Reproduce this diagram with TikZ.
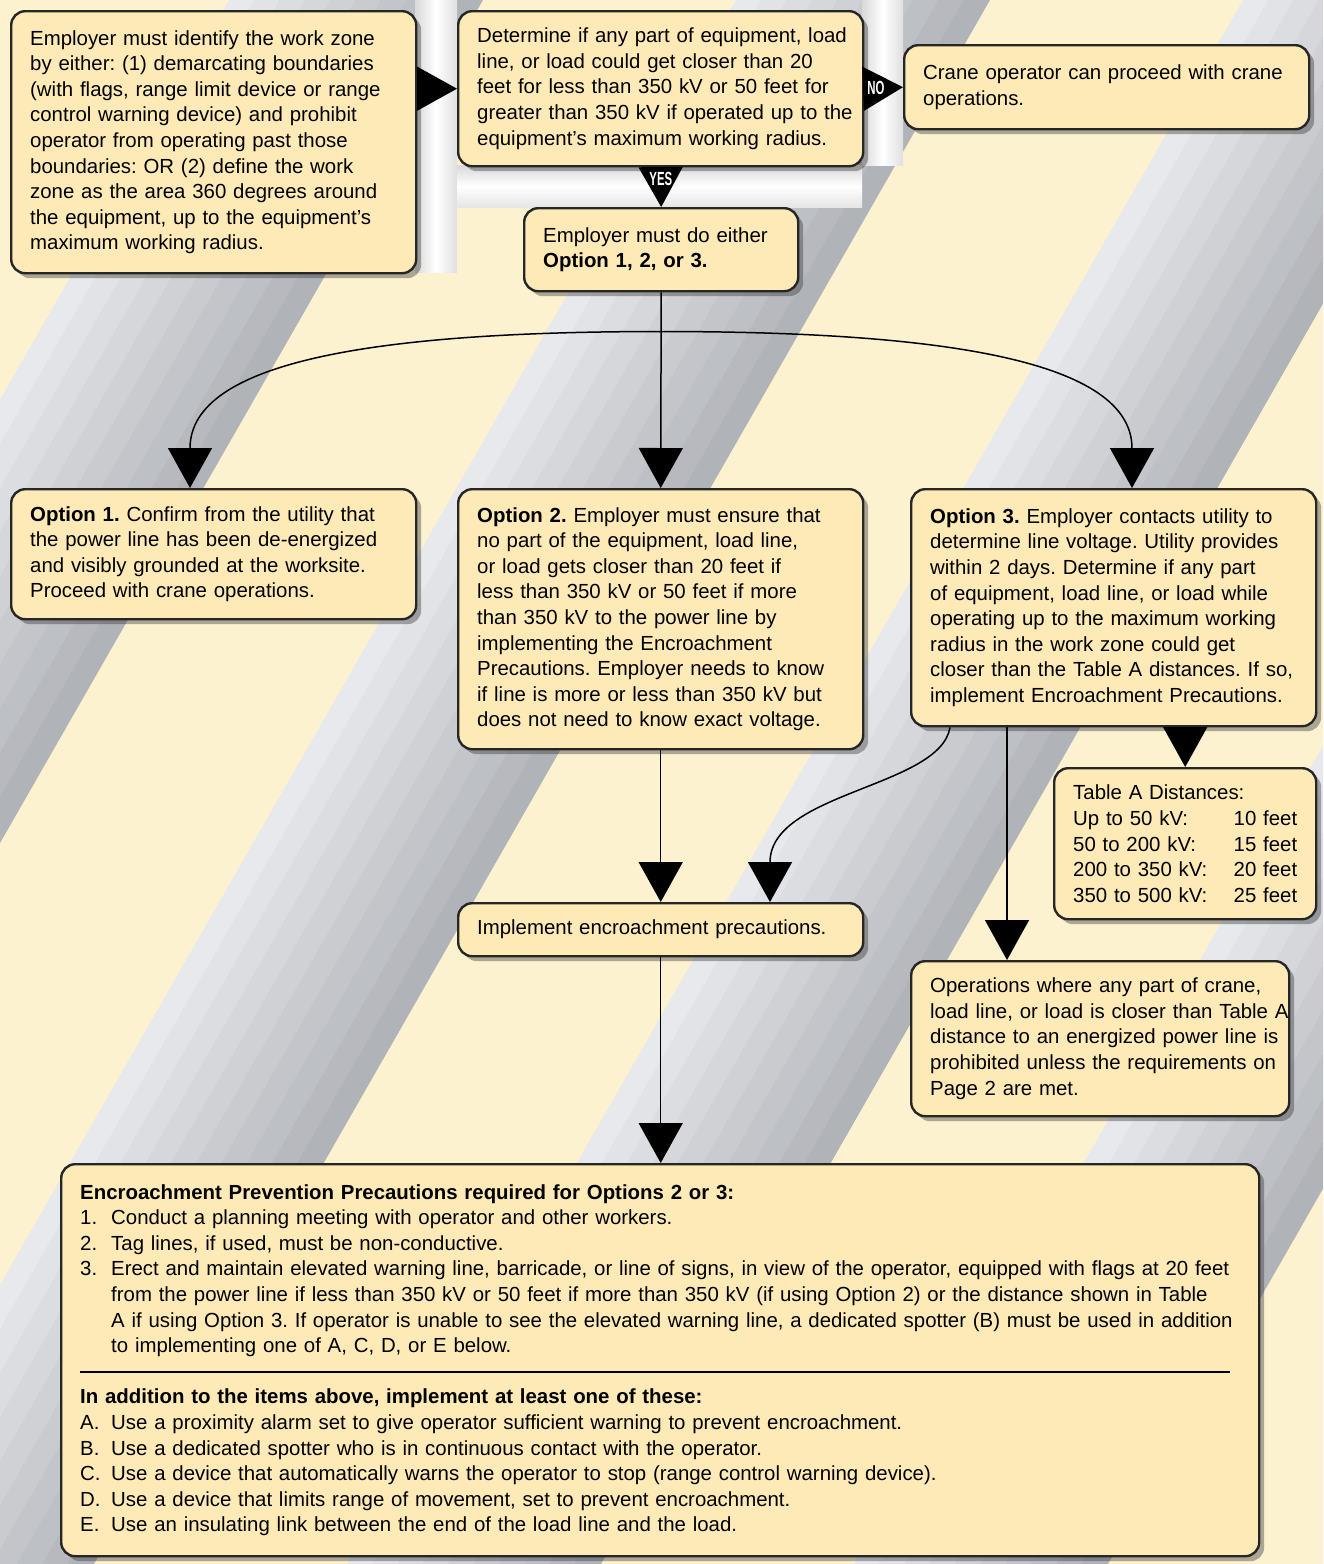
\documentclass[tikz,border=0pt]{standalone}
\usepackage{fontspec}
\setmainfont{Liberation Sans}
\usetikzlibrary{arrows.meta,calc,shadows}

\definecolor{boxfill}{RGB}{254,234,182}
\definecolor{stripecream}{RGB}{253,242,208}
\definecolor{stripelight}{RGB}{232,233,236}
\definecolor{stripedark}{RGB}{176,179,184}

% one line of the precautions list
\newcommand{\litem}[2]{\mbox{\makebox[15.5pt][l]{#1}#2}}
\newcommand{\lcont}[1]{\mbox{\hspace*{15.5pt}#1}}

\begin{document}
\begin{tikzpicture}[x=0.5pt,y=-0.5pt,
    box/.style={draw=black!85, line width=1.2pt, rounded corners=7pt, fill=boxfill,
      anchor=north west, align=left, inner xsep=9.5pt, inner ysep=4pt,
      font=\fontsize{10.2}{12.8}\selectfont\frenchspacing,
      drop shadow={shadow xshift=2.5pt, shadow yshift=-2.5pt, opacity=0.4, fill=black!80}},
    arr/.style={-{Triangle[width=22pt,length=20pt]}, line width=0.75pt},
    tag/.style={text=white, inner sep=0pt, font=\fontsize{9.5}{9.5}\selectfont\bfseries}]

    % Background stripes
    \useasboundingbox (0,0) rectangle (1323,1564);
    \begin{scope}
      \clip (0,0) rectangle (1323,1564);
      \fill[stripecream] (0,0) rectangle (1323,1564);
      \foreach \k in {-1,...,3}
        \foreach \i in {0,...,9} {
          \pgfmathsetmacro\xa{229+507*\k+25.3*\i}
          \pgfmathtruncatemacro\p{\i*11}
          \fill[stripedark!\p!stripelight] (\xa,0) -- ++(26.3,0) -- ++(-896,1564) -- ++(-26.3,0) -- cycle;
        }
      % Gutters behind the first arrows
      \fill[left color=gray!30, right color=gray!25, middle color=white] (415,0) rectangle (457,272);
      \fill[left color=gray!30, right color=gray!25, middle color=white] (862,0) rectangle (903,165);
      \fill[top color=gray!30, bottom color=gray!20, middle color=white] (457,165) rectangle (862,207);
    \end{scope}

    % Top row
    \node[box, text width=183.5pt, minimum height=131pt] (zone) at (10,10) {Employer must identify the work zone\\
      by either: (1) demarcating boundaries\\
      (with flags, range limit device or range\\
      control warning device) and prohibit\\
      operator from operating past those\\
      boundaries: OR (2) define the work\\
      zone as the area 360 degrees around\\
      the equipment, up to the equipment's\\
      maximum working radius.};
    \node[box, text width=183.5pt, minimum height=77.5pt] (check) at (457,10) {\mbox{Determine if any part of equipment, load}\\
      \mbox{line, or load could get closer than 20}\\
      \mbox{feet for less than 350 kV or 50 feet for}\\
      \mbox{greater than 350 kV if operated up to the}\\
      \mbox{equipment's maximum working radius.}};
    \node[box, text width=183.5pt, minimum height=42pt] (proceed) at (903,44) {Crane operator can proceed with crane\\
      operations.};
    \node[box, text width=118pt, minimum height=41.5pt] (either) at (523,207) {Employer must do either\\
      \textbf{Option 1, 2, or 3.}};

    % Options
    \node[box, text width=183.5pt, minimum height=65pt] (opt1) at (10,488) {\textbf{Option 1.} Confirm from the utility that\\
      the power line has been de-energized\\
      and visibly grounded at the worksite.\\
      Proceed with crane operations.};
    \node[box, text width=183.5pt, minimum height=130pt] (opt2) at (457,488) {\textbf{Option 2.} Employer must ensure that\\
      no part of the equipment, load line,\\
      or load gets closer than 20 feet if\\
      less than 350 kV or 50 feet if more\\
      than 350 kV to the power line by\\
      implementing the Encroachment\\
      Precautions. Employer needs to know\\
      if line is more or less than 350 kV but\\
      does not need to know exact voltage.};
    \node[box, text width=183.5pt, minimum height=118.5pt] (opt3) at (910,488) {\textbf{Option 3.} Employer contacts utility to\\
      determine line voltage. Utility provides\\
      within 2 days. Determine if any part\\
      of equipment, load line, or load while\\
      operating up to the maximum working\\
      radius in the work zone could get\\
      closer than the Table A distances. If so,\\
      implement Encroachment Precautions.};

    % Table and results
    \node[box, text width=112pt, minimum height=75.5pt] (tableA) at (1053,767) {Table A Distances:\\
      Up to 50 kV:\hfill 10 feet\\
      50 to 200 kV:\hfill 15 feet\\
      200 to 350 kV:\hfill 20 feet\\
      350 to 500 kV:\hfill 25 feet};
    \node[box, text width=170pt, minimum height=77.5pt] (prohibit) at (910,960) {\mbox{Operations where any part of crane,}\\
      \mbox{load line, or load is closer than Table A}\\
      \mbox{distance to an energized power line is}\\
      \mbox{prohibited unless the requirements on}\\
      \mbox{Page 2 are met.}};
    \node[box, text width=183.5pt, minimum height=26.5pt] (implement) at (457,902) {Implement encroachment precautions.};

    % Precautions
    \node[box, text width=580pt, minimum height=196pt] (precautions) at (60,1163) {\textbf{Encroachment Prevention Precautions required for Options 2 or 3:}\\
      \litem{1.}{Conduct a planning meeting with operator and other workers.}\\
      \litem{2.}{Tag lines, if used, must be non-conductive.}\\
      \litem{3.}{Erect and maintain elevated warning line, barricade, or line of signs, in view of the operator, equipped with flags at 20 feet}\\
      \lcont{from the power line if less than 350 kV or 50 feet if more than 350 kV (if using Option 2) or the distance shown in Table}\\
      \lcont{A if using Option 3. If operator is unable to see the elevated warning line, a dedicated spotter (B) must be used in addition}\\
      \lcont{to implementing one of A, C, D, or E below.}\\
      \rule[2.7pt]{575pt}{0.7pt}\\
      \textbf{In addition to the items above, implement at least one of these:}\\
      \litem{A.}{Use a proximity alarm set to give operator sufficient warning to prevent encroachment.}\\
      \litem{B.}{Use a dedicated spotter who is in continuous contact with the operator.}\\
      \litem{C.}{Use a device that automatically warns the operator to stop (range control warning device).}\\
      \litem{D.}{Use a device that limits range of movement, set to prevent encroachment.}\\
      \litem{E.}{Use an insulating link between the end of the load line and the load.}};

    % Connectors
    \coordinate (split) at ($(either.south)!0.2!(opt2.north)$);
    \draw[arr] (zone.east |- check.west) -- (check.west);
    \draw[arr] (check.east) -- node[tag, pos=0.3] {\scalebox{0.6}[1]{NO}} (proceed.west);
    \draw[arr] (check.south) -- node[tag, pos=0.3] {\scalebox{0.6}[1]{YES}} (either.north);
    \draw[arr] (either.south) -- (opt2.north);
    \draw[arr] (split) .. controls +(-280,0) and +(0,-128) .. ([xshift=90pt]opt1.north west);
    \draw[arr] (split) .. controls +(280,0) and +(0,-128) .. ([xshift=111pt]opt3.north west);
    \draw[arr] (opt3.south -| tableA.north) -- (tableA.north);
    \draw[arr] ([xshift=48.5pt]opt3.south west) -- ([xshift=48.5pt]prohibit.north west);
    \draw[arr] ([xshift=20pt]opt3.south west) .. controls +(-10,60) and +(0,-110) .. ([xshift=156.5pt]implement.north west);
    \draw[arr] (opt2.south) -- (implement.north);
    \draw[arr] (implement.south) -- (implement.south |- precautions.north);
\end{tikzpicture}
\end{document}
